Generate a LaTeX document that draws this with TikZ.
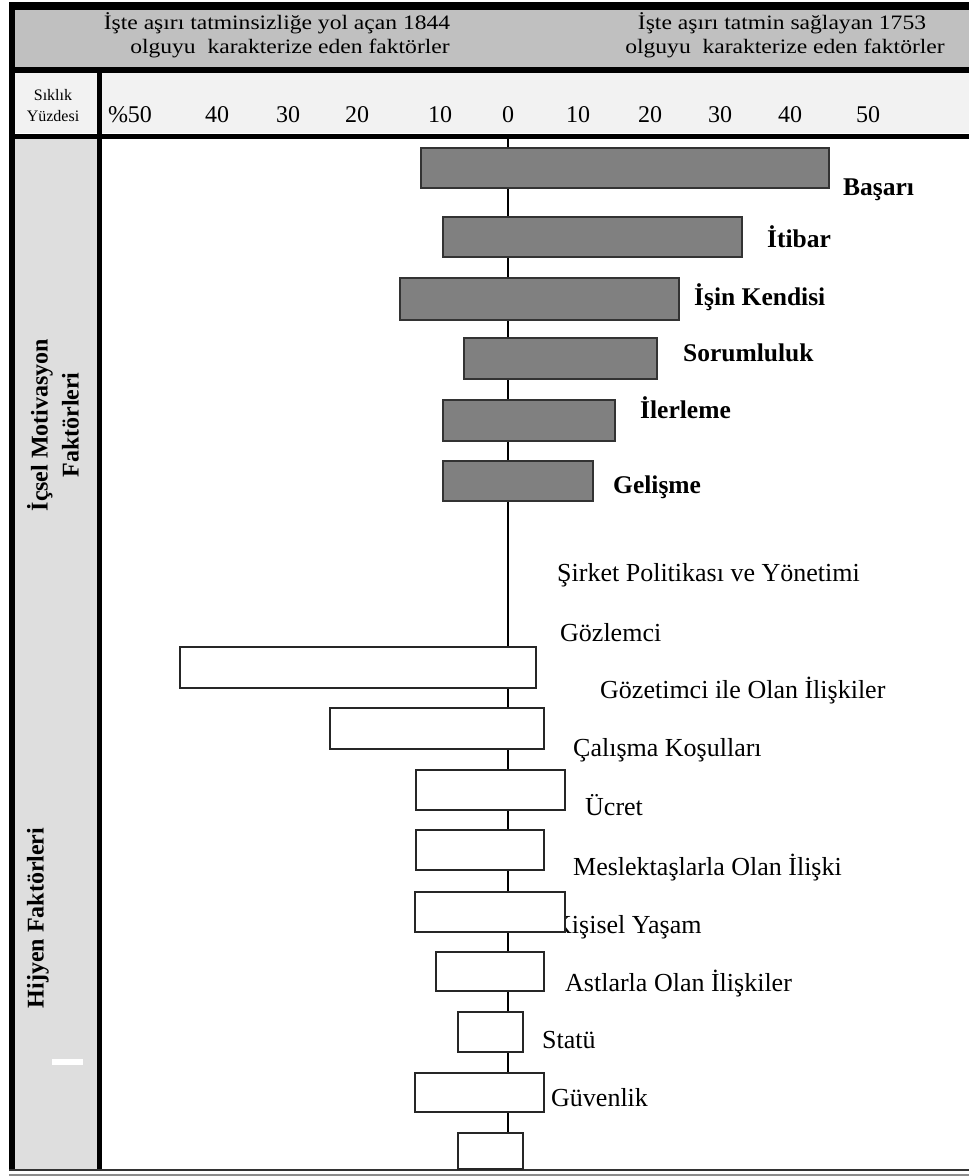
\documentclass[tikz,border=0pt]{standalone}
\usepackage{fontspec}
\setmainfont{Liberation Serif}
\newfontfamily\hdrfont[FakeStretch=1.15]{Liberation Serif}
\definecolor{hdrgray}{HTML}{C0C0C0}
\definecolor{rowgray}{HTML}{F2F2F2}
\definecolor{colgray}{HTML}{DEDEDE}
\definecolor{bargray}{HTML}{808080}
\tikzset{
  boldlbl/.style={anchor=base west, inner sep=0pt, font=\fontsize{25.5}{28}\selectfont\bfseries},
  hyglbl/.style={anchor=base west, inner sep=0pt, font=\fontsize{26}{28}\selectfont},
  ticklbl/.style={anchor=base, inner sep=0pt, font=\fontsize{24}{26}\selectfont},
  hdrlbl/.style={anchor=base, inner sep=0pt, font=\hdrfont\fontsize{20.5}{24}\selectfont},
  sidelbl/.style={rotate=90, inner sep=0pt, align=center, font=\fontsize{24}{31}\selectfont\bfseries},
  motbar/.style={draw=black!80, line width=2pt, fill=bargray},
  hygbar/.style={draw=black!85, line width=2pt, fill=white},
  frame/.style={draw=black},
}
\begin{document}
\begin{tikzpicture}[x=1pt,y=-1pt]
\useasboundingbox (0,0) rectangle (969,1176);
% backgrounds
\fill[hdrgray] (15,10) rectangle (969,67);
\fill[rowgray] (15,73) rectangle (969,133);
\fill[colgray] (15,139) rectangle (97,1170);
\fill[white] (52,1059) rectangle (83,1065);
% frame lines
\draw[frame, line width=8pt] (9,6) -- (969,6);
\draw[frame, line width=6pt] (12,2) -- (12,1170);
\draw[frame, line width=6pt] (9,70) -- (969,70);
\draw[frame, line width=5pt] (9,136) -- (969,136);
\draw[frame, line width=5pt] (99.5,73) -- (99.5,1170);
\draw[black!80, line width=2pt] (9,1170) -- (969,1170);
\draw[black!45, line width=1.5pt] (9,1175) -- (969,1175);
% header texts
\node[hdrlbl] (h1a) at (277,29) {İşte aşırı tatminsizliğe yol açan 1844};
\node[hdrlbl] (h1b) at (290,53) {olguyu\ \ karakterize eden faktörler};
\node[hdrlbl] (h2a) at (782,29) {İşte aşırı tatmin sağlayan 1753};
\node[hdrlbl] (h2b) at (785,53) {olguyu\ \ karakterize eden faktörler};
% scale row
\node[anchor=base, inner sep=0pt, font=\fontsize{16}{18}\selectfont] (s1) at (53,100) {Sıklık};
\node[anchor=base, inner sep=0pt, font=\fontsize{16}{18}\selectfont] (s2) at (53,121) {Yüzdesi};
\node[ticklbl] (t50l) at (130,122) {\%50};
\node[ticklbl] (t40l) at (217,122) {40};
\node[ticklbl] (t30l) at (288,122) {30};
\node[ticklbl] (t20l) at (357,122) {20};
\node[ticklbl] (t10l) at (440,122) {10};
\node[ticklbl] (t0) at (508,122) {0};
\node[ticklbl] (t10r) at (578,122) {10};
\node[ticklbl] (t20r) at (650,122) {20};
\node[ticklbl] (t30r) at (720,122) {30};
\node[ticklbl] (t40r) at (790,122) {40};
\node[ticklbl] (t50r) at (868,122) {50};
% side labels
\node[sidelbl] (side1) at (53,425) {İçsel Motivasyon\\Faktörleri};
\node[sidelbl] (side2) at (38,918) {Hijyen Faktörleri};
% axis
\draw[black, line width=2pt] (508,139) -- (508,1168);
% motivation labels
\node[boldlbl] (l1) at (843,195) {Başarı};
\node[boldlbl] (l2) at (767,247) {İtibar};
\node[boldlbl] (l3) at (694,305) {İşin Kendisi};
\node[boldlbl] (l4) at (683,361) {Sorumluluk};
\node[boldlbl] (l5) at (640,418) {İlerleme};
\node[boldlbl] (l6) at (613,493) {Gelişme};
% hygiene labels
\node[hyglbl] (g1) at (557,581) {Şirket Politikası ve Yönetimi};
\node[hyglbl] (g2) at (560,641) {Gözlemci};
\node[hyglbl] (g3) at (600,698) {Gözetimci ile Olan İlişkiler};
\node[hyglbl] (g4) at (573,756) {Çalışma Koşulları};
\node[hyglbl] (g5) at (585,815) {Ücret};
\node[hyglbl] (g6) at (573,875) {Meslektaşlarla Olan İlişki};
\node[hyglbl] (g7) at (553,933) {Kişisel Yaşam};
\node[hyglbl] (g8) at (565,991) {Astlarla Olan İlişkiler};
\node[hyglbl] (g9) at (542,1048) {Statü};
\node[hyglbl] (g10) at (551,1106) {Güvenlik};
% motivation bars
\draw[motbar] (421,148) rectangle (829,188);
\draw[motbar] (443,217) rectangle (742,257);
\draw[motbar] (400,278) rectangle (679,320);
\draw[motbar] (464,338) rectangle (657,379);
\draw[motbar] (443,400) rectangle (615,441);
\draw[motbar] (443,461) rectangle (593,501);
% hygiene bars
\draw[hygbar] (180,647) rectangle (536,688);
\draw[hygbar] (330,708) rectangle (544,749);
\draw[hygbar] (416,770) rectangle (565,810);
\draw[hygbar] (416,830) rectangle (544,870);
\draw[hygbar] (415,892) rectangle (565,932);
\draw[hygbar] (436,952) rectangle (544,991);
\draw[hygbar] (458,1012) rectangle (523,1052);
\draw[hygbar] (415,1073) rectangle (544,1112);
\draw[hygbar] (458,1133) -- (458,1169) -- (523,1169) -- (523,1133) -- cycle;
\end{tikzpicture}
\end{document}
